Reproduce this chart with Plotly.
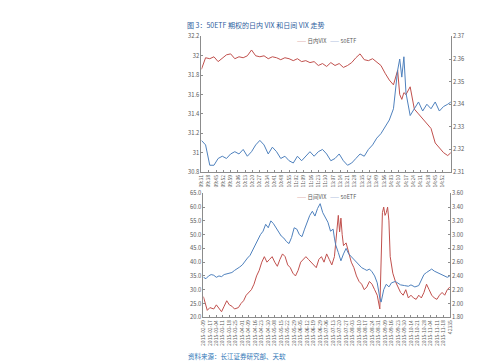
import plotly.graph_objects as go

# ---------------- top chart: intraday ----------------
top_times = ["09:31","09:35","09:39","09:43","09:47","09:51","09:55","09:59","10:03","10:07",
             "10:11","10:15","10:19","10:23","10:27","10:31","10:35","10:39","10:43","10:47",
             "10:51","10:55","10:59","11:03","11:07","11:11","11:15","11:19","11:23","11:27",
             "13:01","13:05","13:09","13:13","13:17","13:21","13:25","13:29","13:33","13:37",
             "13:41","13:45","13:49","13:53","13:57","14:01","14:05","14:09","14:11","14:13",
             "14:15","14:17","14:21","14:25","14:29","14:33","14:37","14:41","14:45","14:49",
             "14:53","14:57","15:00"]
top_vix = [31.86,31.98,31.97,31.99,31.94,31.98,32.01,32.02,31.97,31.99,
           31.98,32.00,32.06,32.00,31.99,32.00,31.97,31.99,31.98,31.96,
           31.98,31.97,31.95,31.97,31.94,31.95,31.93,31.94,31.90,31.92,
           31.89,31.93,31.90,31.92,31.88,31.90,31.93,31.98,32.02,31.96,
           31.95,31.97,31.93,31.90,31.82,31.75,31.70,31.85,31.60,31.55,
           31.62,31.60,31.68,31.45,31.40,31.35,31.30,31.25,31.10,31.05,
           31.00,30.97,31.00]
top_etf = [2.324,2.322,2.313,2.313,2.316,2.317,2.316,2.318,2.319,2.318,
           2.320,2.317,2.319,2.322,2.324,2.322,2.318,2.321,2.319,2.316,
           2.317,2.315,2.314,2.317,2.315,2.317,2.319,2.317,2.319,2.320,
           2.318,2.315,2.316,2.318,2.315,2.313,2.314,2.316,2.318,2.317,
           2.320,2.322,2.325,2.327,2.330,2.333,2.338,2.355,2.360,2.352,
           2.361,2.345,2.335,2.338,2.341,2.337,2.340,2.338,2.341,2.337,
           2.339,2.340,2.341]
top_tick_labels = ["09:31","09:38","09:45","09:52","09:59","10:06","10:13","10:20","10:27","10:34",
                   "10:41","10:48","10:55","11:02","11:09","11:16","11:23","11:30","13:07","13:14",
                   "13:21","13:28","13:35","13:42","13:49","13:56","14:03","14:10","14:17","14:24",
                   "14:31","14:38","14:45","14:52"]

# every trading minute of the session (category order)
minutes = []
for h0, m0 in ((9, 30), (13, 0)):
    for i in range(1, 121):
        t = h0 * 60 + m0 + i
        minutes.append(f"{t // 60:02d}:{t % 60:02d}")

# ---------------- bottom chart: daily ----------------
vix_days = [0,2,3,5,8,10,12,14,16,18,20,22,24,27,29,31,33,35,37,39,41,43,45,47,49,51,53,55,57,59,
            61,63,65,67,69,71,73,75,77,79,81,83,85,87,89,91,93,95,97,99,101,102,103,104,105,106,107,108,110,112,
            114,116,118,120,122,124,126,128,130,132,134,136,137,138,139,140,141,142,143,144,146,148,150,152,154,156,158,160,162,164,
            166,168,170,172,174,176,178,180,182,184,186,188,190]
vix_vals = [27.5,24,22.5,23.5,23,24.5,23,22,24,26,24.5,24,23,23.5,25,26,28,29,30,32,35,37,40,42,40,41,42,40,38.5,41,
            43,42,39,38,36,35,37,40,41,42,41,40,39,38,41,42,40,43,41,39,42,47,52,57,51,56,50,46,47,43,
            40,38,35,33,32,30,31,33,32,30,28,23,45,58,60,57,58,60,55,42,36,33,31,29,28,30,27,28,27,26.5,
            28,27,29,32,30,28,27,26.5,28,29,28,30,31]
etf_days = [0,2,4,6,8,10,12,14,16,18,20,22,24,26,28,30,32,34,36,38,40,42,44,46,48,50,52,54,56,58,
            60,62,64,66,68,70,72,74,76,78,80,82,84,86,88,90,92,94,96,98,100,101,102,104,106,108,110,112,114,116,
            118,120,122,124,126,128,130,132,134,136,137,139,141,143,145,148,150,152,155,158,160,163,166,168,170,172,174,176,178,180,
            182,184,186,188,190]
etf_vals = [2.38,2.36,2.40,2.42,2.41,2.38,2.40,2.39,2.42,2.43,2.44,2.45,2.48,2.50,2.53,2.56,2.62,2.66,2.70,2.78,2.85,2.92,3.00,3.05,3.15,3.10,3.20,3.16,3.10,3.05,
            2.98,2.95,2.90,2.87,2.96,3.10,3.08,3.00,2.97,3.08,3.18,3.28,3.34,3.27,3.38,3.45,3.32,3.26,3.18,3.05,3.08,2.95,2.85,2.74,2.62,2.72,2.80,2.72,2.68,2.64,
            2.60,2.55,2.52,2.50,2.48,2.50,2.46,2.40,2.30,2.08,2.02,2.20,2.28,2.24,2.30,2.32,2.29,2.27,2.26,2.25,2.27,2.24,2.26,2.34,2.42,2.45,2.48,2.50,2.47,2.45,
            2.44,2.42,2.40,2.38,2.40]
bottom_tick_labels = ["2015-02-09","2015-02-17","2015-03-04","2015-03-11","2015-03-18","2015-03-25","2015-04-01",
                      "2015-04-09","2015-04-16","2015-04-23","2015-04-30","2015-05-08","2015-05-15","2015-05-22",
                      "2015-05-29","2015-06-05","2015-06-12","2015-06-19","2015-06-29","2015-07-06","2015-07-13",
                      "2015-07-20","2015-07-27","2015-08-03","2015-08-10","2015-08-17","2015-08-24","2015-08-31",
                      "2015-09-09","2015-09-16","2015-09-23","2015-09-30","2015-10-14","2015-10-21","2015-10-28",
                      "2015-11-04","2015-11-11","2015-11-18","42335"]
bottom_tick_step = 5

RED = "#C0504D"
BLUE = "#4F81BD"
AX = "#8C8C8C"
TXT = "#595959"
FONT = "Noto Sans CJK SC, sans-serif"

fig = go.Figure()
fig.add_trace(go.Scatter(x=top_times, y=top_vix, mode="lines", name="日内VIX",
                         line=dict(color=RED, width=1), xaxis="x", yaxis="y"))
fig.add_trace(go.Scatter(x=top_times, y=top_etf, mode="lines", name="50ETF",
                         line=dict(color=BLUE, width=1), xaxis="x", yaxis="y2"))
fig.add_trace(go.Scatter(x=vix_days, y=vix_vals, mode="lines", name="日间VIX",
                         line=dict(color=RED, width=1), xaxis="x2", yaxis="y3"))
fig.add_trace(go.Scatter(x=etf_days, y=etf_vals, mode="lines", name="50ETF",
                         line=dict(color=BLUE, width=1), xaxis="x2", yaxis="y4"))

axis_common = dict(showline=True, linecolor=AX, linewidth=1, showgrid=False, zeroline=False,
                   ticks="inside", ticklen=2, tickcolor=AX, tickfont=dict(size=5.8, color=TXT, family=FONT))

fig.update_layout(
    width=499, height=364, autosize=False,
    margin=dict(l=0, r=0, t=0, b=0),
    paper_bgcolor="white", plot_bgcolor="white",
    showlegend=False,
    font=dict(family=FONT, color=TXT),
    xaxis=dict(axis_common, type="category", categoryorder="array", categoryarray=minutes,
               range=[0, len(minutes) - 1], tickmode="array", tickvals=top_tick_labels,
               ticktext=top_tick_labels, tickangle=-90, domain=[0.385, 0.892], anchor="y",
               tickfont=dict(size=5, color=TXT, family=FONT)),
    yaxis=dict(axis_common, range=[30.8, 32.2], dtick=0.2, tick0=30.8, domain=[0.552, 0.934],
               anchor="x"),
    yaxis2=dict(axis_common, range=[2.31, 2.37], dtick=0.01, tick0=2.31, overlaying="y",
                side="right", anchor="x"),
    xaxis2=dict(axis_common, range=[0, (len(bottom_tick_labels) - 1) * bottom_tick_step],
                tickmode="array",
                tickvals=[i * bottom_tick_step for i in range(len(bottom_tick_labels))],
                ticktext=bottom_tick_labels, tickangle=-90, domain=[0.389, 0.890], anchor="y3",
                tickfont=dict(size=5, color=TXT, family=FONT)),
    yaxis3=dict(axis_common, range=[20, 65], dtick=5, tick0=20, tickformat=".1f",
                domain=[0.143, 0.492], anchor="x2"),
    yaxis4=dict(axis_common, range=[1.8, 3.6], dtick=0.2, tick0=1.8, tickformat=".2f",
                overlaying="y3", side="right", anchor="x2"),
)

legend_top = (f"<span style='color:{RED}'>——</span> 日内VIX   "
              f"<span style='color:{BLUE}'>——</span> 50ETF")
legend_bot = (f"<span style='color:{RED}'>——</span> 日间VIX   "
              f"<span style='color:{BLUE}'>——</span> 50ETF")

fig.add_annotation(text="图 3：50ETF 期权的日内 VIX 和日间 VIX 走势", xref="paper", yref="paper",
                   x=175 / 499, y=1 - 12 / 364, xanchor="left", yanchor="middle", showarrow=False,
                   font=dict(size=7, color="#2E5E9E", family=FONT))
fig.add_annotation(text=legend_top, xref="paper", yref="paper", x=287 / 499, y=1 - 29 / 364,
                   xanchor="left", yanchor="middle", showarrow=False,
                   font=dict(size=5.5, color=TXT, family=FONT))
fig.add_annotation(text=legend_bot, xref="paper", yref="paper", x=287 / 499, y=1 - 189 / 364,
                   xanchor="left", yanchor="middle", showarrow=False,
                   font=dict(size=5.5, color=TXT, family=FONT))
fig.add_annotation(text="资料来源：长江证券研究部、天软", xref="paper", yref="paper",
                   x=176 / 499, y=1 - 352 / 364, xanchor="left", yanchor="middle", showarrow=False,
                   font=dict(size=6.5, color="#2E75B6", family=FONT))

fig.write_html("out.html")
